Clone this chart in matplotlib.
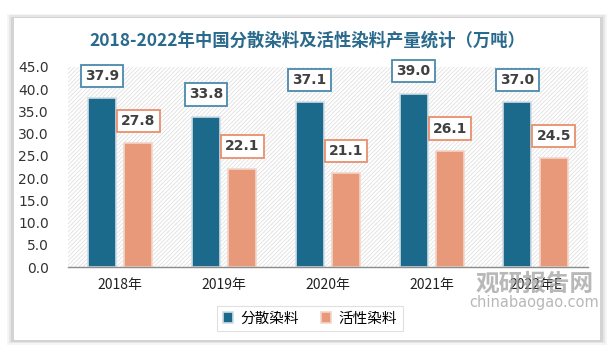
import matplotlib
matplotlib.use("Agg")
import matplotlib.pyplot as plt
import numpy as np
from matplotlib.patches import Rectangle

plt.rcParams["font.family"] = ["Noto Sans CJK SC", "DejaVu Sans"]
plt.rcParams["hatch.color"] = "#d9d9d9"
plt.rcParams["hatch.linewidth"] = 0.6

# ── Data ──────────────────────────────────────────────────────────────────────
years = ["2018年", "2019年", "2020年", "2021年", "2022年E"]
disperse = [37.9, 33.8, 37.1, 39.0, 37.0]
reactive = [27.8, 22.1, 21.1, 26.1, 24.5]
series_names = ["分散染料", "活性染料"]

BLUE = "#1b6a8c"
ORANGE = "#e8997a"
TITLE_C = "#2a6a8c"

fig = plt.figure(figsize=(6.14, 3.5), dpi=100)
fig.patch.set_facecolor("white")

# background card with soft shadow
bg = fig.add_axes([0, 0, 1, 1], zorder=-5)
bg.set_axis_off()
bg.set_xlim(0, 1)
bg.set_ylim(0, 1)
for i, a in enumerate([0.04, 0.06, 0.08]):
    bg.add_patch(Rectangle((0.012 + i * 0.003, 0.015 + i * 0.004), 0.976 - i * 0.006,
                           0.945 - i * 0.008, facecolor="black", alpha=a, edgecolor="none"))
bg.add_patch(Rectangle((0.022, 0.03), 0.956, 0.92, facecolor="white", edgecolor="none"))

ax = fig.add_axes([0.111, 0.237, 0.846, 0.572])
ax.set_facecolor("white")
ax.add_patch(Rectangle((0, 0), 1, 1, transform=ax.transAxes, facecolor="none",
                       hatch="////////", edgecolor="#e0e0e0", linewidth=0, zorder=0))

x = np.arange(len(years))
w = 0.27
off = 0.175
b1 = ax.bar(x - off, disperse, w, color=BLUE, edgecolor="#d0dde5", linewidth=1.2,
            label=series_names[0], zorder=2)
b2 = ax.bar(x + off, reactive, w, color=ORANGE, edgecolor="#f2d6ca", linewidth=1.2,
            label=series_names[1], zorder=2)

for bars, vals, ec in [(b1, disperse, "#4a8aab"), (b2, reactive, "#e8906c")]:
    for rect, v in zip(bars, vals):
        ax.annotate(f"{v:.1f}", (rect.get_x() + rect.get_width() / 2, v),
                    xytext=(0, 11), textcoords="offset points", ha="center", va="bottom",
                    fontsize=10, fontweight="bold", color="#404040", family="DejaVu Sans",
                    bbox=dict(boxstyle="square,pad=0.3", facecolor="white", edgecolor=ec,
                              linewidth=1.3), zorder=3)

ax.set_xlim(-0.5, len(years) - 0.5)
ax.set_ylim(0, 45)
ax.set_yticks(np.arange(0, 46, 5))
ax.set_yticklabels([f"{t:.1f}" for t in np.arange(0, 46, 5)], fontsize=10, color="#333333",
                   family="DejaVu Sans")
ax.set_xticks(x)
ax.set_xticklabels(years, fontsize=10, color="#222222")
ax.tick_params(axis="both", length=0)
ax.tick_params(axis="x", pad=8)
ax.tick_params(axis="y", pad=14)
for s in ["top", "right", "left"]:
    ax.spines[s].set_visible(False)
ax.spines["bottom"].set_color("#8c8c8c")
ax.spines["bottom"].set_linewidth(1.0)

fig.text(0.5, 0.885, "2018-2022年中国分散染料及活性染料产量统计（万吨）", ha="center", va="center",
         fontsize=12.5, fontweight="bold", color=TITLE_C)

leg = fig.legend(handles=[b1, b2], labels=series_names, loc="center", bbox_to_anchor=(0.505, 0.09),
                 ncol=2, frameon=True, fontsize=10.5, handlelength=0.7, handleheight=0.7,
                 columnspacing=1.5, handletextpad=0.5, borderpad=0.4, fancybox=False)
leg.get_frame().set_edgecolor("#d9d9d9")
leg.get_frame().set_linewidth(0.8)

# watermark
fig.text(0.87, 0.19, "观研报告网", ha="center", va="center", fontsize=17, fontweight="bold",
         color="#9a9a9a", alpha=0.7)
fig.text(0.87, 0.135, "chinabaogao.com", ha="center", va="center", fontsize=10.5,
         color="#9a9a9a", alpha=0.7, family="DejaVu Sans")

fig.savefig("out.png", dpi=100)
